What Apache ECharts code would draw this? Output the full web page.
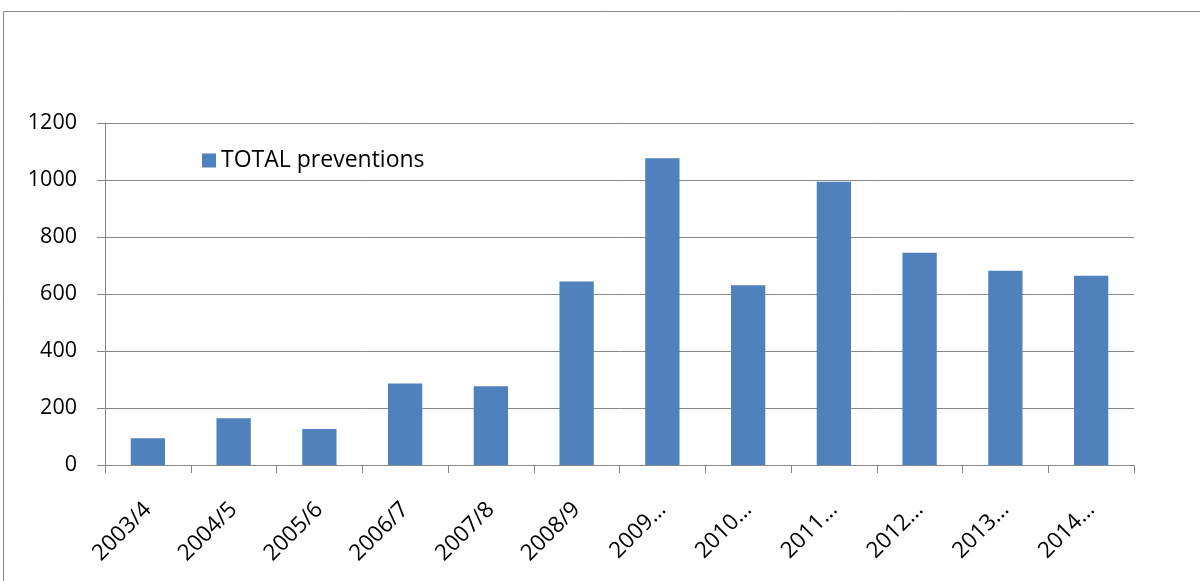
<!DOCTYPE html>
<html>
<head>
<meta charset="utf-8">
<script src="https://cdn.jsdelivr.net/npm/echarts@6/dist/echarts.min.js"></script>
<style>
html,body{margin:0;padding:0;background:#fff;}
#chart{width:1200px;height:581px;}
</style>
</head>
<body>
<div id="chart"></div>
<script>
const categories = ["2003/4","2004/5","2005/6","2006/7","2007/8","2008/9","2009/10","2010/11","2011/12","2012/13","2013/14","2014/15"];
const seriesName = "TOTAL preventions";
const totalPreventions = [94,164,126,286,276,644,1076,631,994,745,682,664];
const yTicks = [0,200,400,600,800,1000,1200];

const FONT = "Open Sans";
const chart = echarts.init(document.getElementById('chart'), null, {renderer:'canvas'});
chart.setOption({
  animation:false,
  backgroundColor:'#ffffff',
  textStyle:{fontFamily:FONT},
  graphic:[{
    type:'rect', silent:true, z:-1,
    shape:{x:3.5,y:11.5,width:1400,height:800},
    style:{fill:'none',stroke:'#878787',lineWidth:1}
  }],
  legend:{
    show:true,
    left:202, top:149, padding:0,
    itemWidth:14, itemHeight:14,
    icon:'rect',
    textStyle:{fontFamily:FONT,fontSize:23,color:'#000'},
    data:[seriesName]
  },
  grid:{left:105,right:66,top:123,bottom:116,containLabel:false},
  xAxis:{
    type:'category',
    data:categories,
    axisLine:{lineStyle:{color:'#878787',width:1}},
    axisTick:{show:true,length:8,lineStyle:{color:'#878787'}},
    axisLabel:{
      rotate:45, interval:0, margin:41,
      fontFamily:FONT, fontSize:22.5, color:'#000',
      formatter:function(v){return v.length>6 ? v.slice(0,4)+'…' : v;}
    },
    splitLine:{show:false}
  },
  yAxis:{
    type:'value',
    min:yTicks[0], max:yTicks[yTicks.length-1], interval:200,
    axisLine:{show:true,lineStyle:{color:'#878787',width:1}},
    axisTick:{show:true,length:8,lineStyle:{color:'#878787'}},
    axisLabel:{margin:28,fontFamily:FONT,fontSize:21.5,color:'#000',
      formatter:function(v){return String(v);}},
    splitLine:{show:true,lineStyle:{color:'#878787',width:1}}
  },
  series:[{
    name:seriesName,
    type:'bar',
    data:totalPreventions,
    barWidth:'40%',
    itemStyle:{color:'#4F81BD'}
  }]
});
</script>
</body>
</html>
